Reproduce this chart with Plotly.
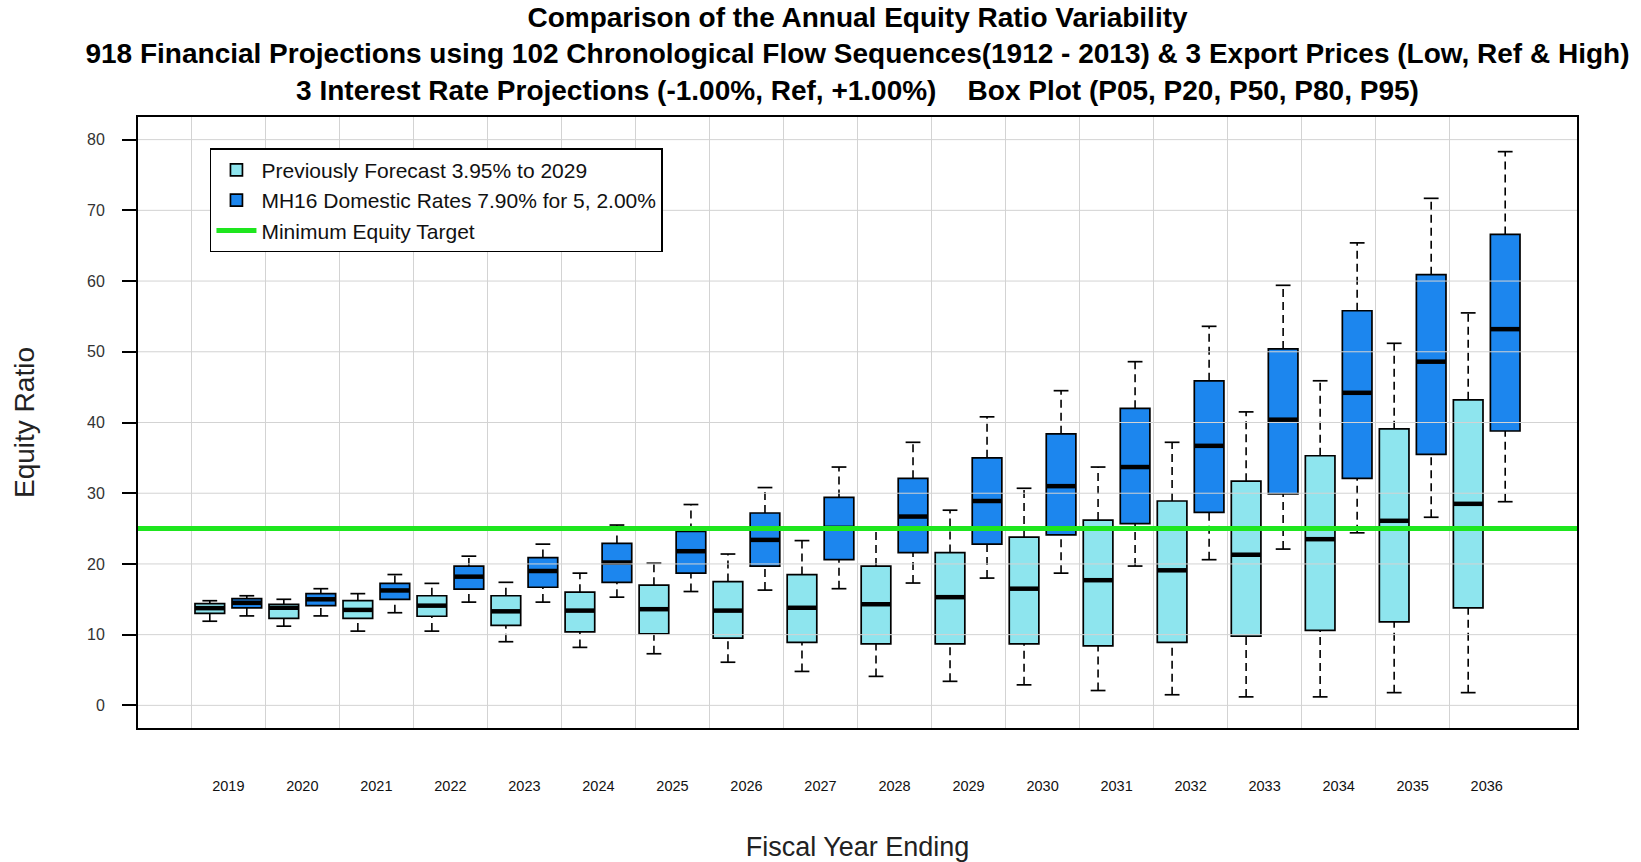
import plotly.graph_objects as go

# ---------------- data ----------------
YEARS = [2019, 2020, 2021, 2022, 2023, 2024, 2025, 2026, 2027,
         2028, 2029, 2030, 2031, 2032, 2033, 2034, 2035, 2036]

# Previously Forecast 3.95% to 2029  (P05, P20, P50, P80, P95)
PREV_P05 = [11.9, 11.2, 10.5, 10.5, 9.0, 8.2, 7.3, 6.1, 4.8, 4.1, 3.4, 2.9, 2.1, 1.5, 1.2, 1.2, 1.8, 1.8]
PREV_P20 = [13.0, 12.3, 12.3, 12.6, 11.3, 10.4, 10.1, 9.5, 8.9, 8.7, 8.7, 8.7, 8.4, 8.9, 9.8, 10.6, 11.8, 13.8]
PREV_P50 = [13.75, 13.8, 13.5, 14.1, 13.3, 13.4, 13.6, 13.4, 13.8, 14.3, 15.3, 16.5, 17.7, 19.1, 21.3, 23.5, 26.1, 28.5]
PREV_P80 = [14.4, 14.3, 14.8, 15.5, 15.5, 16.0, 17.0, 17.5, 18.5, 19.7, 21.6, 23.8, 26.2, 28.9, 31.7, 35.3, 39.1, 43.2]
PREV_P95 = [14.8, 15.0, 15.8, 17.25, 17.4, 18.7, 20.1, 21.4, 23.3, 24.8, 27.6, 30.7, 33.7, 37.2, 41.5, 45.9, 51.2, 55.5]

# MH16 Domestic Rates 7.90% for 5, 2.00%
MH16_P05 = [12.65, 12.65, 13.1, 14.6, 14.6, 15.3, 16.1, 16.3, 16.5, 17.3, 18.0, 18.7, 19.7, 20.6, 22.1, 24.4, 26.6, 28.8]
MH16_P20 = [13.8, 14.1, 15.0, 16.45, 16.7, 17.4, 18.7, 19.7, 20.6, 21.6, 22.8, 24.1, 25.7, 27.3, 29.9, 32.1, 35.5, 38.8]
MH16_P50 = [14.5, 15.0, 16.25, 18.2, 19.0, 20.2, 21.8, 23.4, 25.1, 26.7, 28.9, 31.0, 33.7, 36.7, 40.4, 44.2, 48.6, 53.2]
MH16_P80 = [15.1, 15.8, 17.25, 19.7, 20.9, 22.9, 24.6, 27.2, 29.4, 32.1, 35.0, 38.4, 42.0, 45.9, 50.4, 55.8, 60.9, 66.6]
MH16_P95 = [15.5, 16.5, 18.5, 21.1, 22.8, 25.5, 28.4, 30.8, 33.7, 37.2, 40.8, 44.5, 48.6, 53.6, 59.4, 65.4, 71.7, 78.3]

MIN_EQUITY_TARGET = 25
Y_TICKS = [0, 10, 20, 30, 40, 50, 60, 70, 80]

SERIES = [
    ("Previously Forecast 3.95% to 2029", "#8EE5EE", PREV_P05, PREV_P20, PREV_P50, PREV_P80, PREV_P95),
    ("MH16 Domestic Rates 7.90% for 5, 2.00%", "#1C86EE", MH16_P05, MH16_P20, MH16_P50, MH16_P80, MH16_P95),
]

# ---------------- layout helpers (R boxplot geometry) ----------------
N_BOX = 2 * len(YEARS)
BOX_W = 0.8
CAP_W = BOX_W * 0.5
x_lo, x_hi = 0.5, N_BOX + 0.5
x_pad = 0.04 * (x_hi - x_lo)
X_RANGE = [x_lo - x_pad, x_hi + x_pad]
y_pad = 0.04 * (Y_TICKS[-1] - Y_TICKS[0])
Y_RANGE = [Y_TICKS[0] - y_pad, Y_TICKS[-1] + y_pad]

FONT = "Arial, Liberation Sans, sans-serif"

fig = go.Figure()

for g, (name, color, p05, p20, p50, p80, p95) in enumerate(SERIES):
    pos = [2 * i + 1 + g for i in range(len(YEARS))]
    # whiskers (dashed)
    wx, wy = [], []
    for p, lo, q1, q3, hi in zip(pos, p05, p20, p80, p95):
        wx += [p, p, None, p, p, None]
        wy += [q3, hi, None, lo, q1, None]
    fig.add_trace(go.Scatter(x=wx, y=wy, mode="lines", showlegend=False, hoverinfo="skip",
                             line=dict(color="black", width=1.6, dash="8px,5px")))
    # staples
    cx, cy = [], []
    for p, lo, hi in zip(pos, p05, p95):
        cx += [p - CAP_W / 2, p + CAP_W / 2, None, p - CAP_W / 2, p + CAP_W / 2, None]
        cy += [hi, hi, None, lo, lo, None]
    fig.add_trace(go.Scatter(x=cx, y=cy, mode="lines", showlegend=False, hoverinfo="skip",
                             line=dict(color="black", width=1.7)))
    # box bodies
    fig.add_trace(go.Bar(x=pos, y=[b - a for a, b in zip(p20, p80)], base=p20, width=BOX_W,
                         name=name, legendrank=g + 1,
                         marker=dict(color=color, line=dict(color="black", width=1.7))))
    # medians
    mx, my = [], []
    for p, m in zip(pos, p50):
        mx += [p - BOX_W / 2, p + BOX_W / 2, None]
        my += [m, m, None]
    fig.add_trace(go.Scatter(x=mx, y=my, mode="lines", showlegend=False, hoverinfo="skip",
                             line=dict(color="black", width=4.5)))

# horizontal grid drawn over the boxes (as R's grid() after boxplot)
gx, gy = [], []
for t in Y_TICKS:
    gx += [X_RANGE[0], X_RANGE[1], None]
    gy += [t, t, None]
fig.add_trace(go.Scatter(x=gx, y=gy, mode="lines", showlegend=False, hoverinfo="skip",
                         line=dict(color="#d3d3d3", width=1)))

# minimum equity target line
fig.add_trace(go.Scatter(x=X_RANGE, y=[MIN_EQUITY_TARGET, MIN_EQUITY_TARGET], mode="lines",
                         name="Minimum Equity Target", legendrank=3, hoverinfo="skip",
                         line=dict(color="#1EE61E", width=5)))

title_text = ("<b>Comparison of the Annual Equity Ratio Variability<br>"
              "918 Financial Projections using 102 Chronological Flow Sequences(1912 - 2013) & 3 Export Prices (Low, Ref & High)<br>"
              "3 Interest Rate Projections (-1.00%, Ref, +1.00%)    Box Plot (P05, P20, P50, P80, P95)</b>")

fig.update_layout(
    width=1641, height=862,
    margin=dict(l=138, r=64, t=117, b=134, autoexpand=False),
    paper_bgcolor="white", plot_bgcolor="white",
    barmode="overlay",
    font=dict(family=FONT, color="black"),
    title=dict(text=title_text, x=0.5, xref="paper", xanchor="center",
               y=0.969, yref="container", yanchor="top",
               font=dict(size=28, family=FONT, color="black")),
    legend=dict(x=0.05, y=0.949, xanchor="left", yanchor="top",
                bgcolor="white", bordercolor="black", borderwidth=1.5,
                font=dict(size=21, family=FONT, color="#111"),
                itemwidth=40, tracegroupgap=0, traceorder="normal"),
    xaxis=dict(range=X_RANGE, tickmode="array", automargin=False,
               tickvals=[2 * i + 1.5 for i in range(len(YEARS))],
               ticktext=[str(y) for y in YEARS],
               ticks="", showgrid=False, zeroline=False,
               showline=True, mirror=True, linecolor="black", linewidth=2,
               ticklabelstandoff=44,
               tickfont=dict(size=14.5, family=FONT, color="#111"),
               minor=dict(tickmode="array", tickvals=[2 * i + 0.5 for i in range(len(YEARS))],
                          showgrid=True, gridcolor="#d3d3d3", gridwidth=1, ticks=""),
               title=dict(text="Fiscal Year Ending", standoff=44,
                          font=dict(size=27, family=FONT, color="#222"))),
    yaxis=dict(range=Y_RANGE, tickmode="array", tickvals=Y_TICKS, automargin=False,
               ticks="outside", ticklen=14, tickwidth=1.7, tickcolor="black",
               showgrid=False, zeroline=False,
               showline=True, mirror=True, linecolor="black", linewidth=2,
               ticklabelstandoff=14,
               tickfont=dict(size=16, family=FONT, color="#333"),
               title=dict(text="Equity Ratio", standoff=44,
                          font=dict(size=28, family=FONT, color="#222"))),
)

fig.write_html("out.html", config={"displayModeBar": False},
               post_script="document.body.style.margin='0';")
